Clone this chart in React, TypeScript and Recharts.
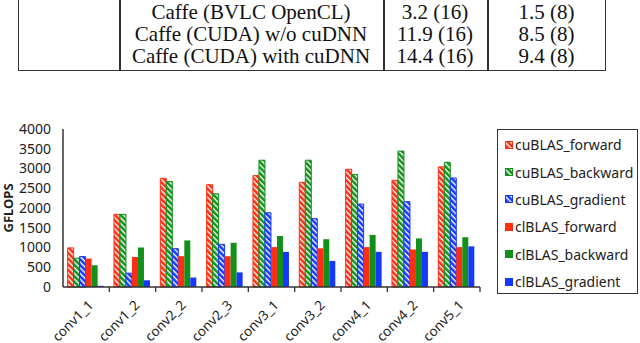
import React from "react";
import { BarChart, Bar, XAxis, YAxis } from "recharts";

const CATEGORIES = ["conv1_1", "conv1_2", "conv2_2", "conv2_3", "conv3_1", "conv3_2", "conv4_1", "conv4_2", "conv5_1"];
const CUBLAS_FORWARD = [990, 1840, 2750, 2590, 2820, 2650, 2980, 2700, 3040];
const CUBLAS_BACKWARD = [730, 1840, 2670, 2360, 3210, 3210, 2850, 3440, 3160];
const CUBLAS_GRADIENT = [770, 350, 970, 1080, 1880, 1730, 2100, 2160, 2760];
const CLBLAS_FORWARD = [720, 760, 780, 780, 1010, 980, 1010, 950, 1010];
const CLBLAS_BACKWARD = [550, 1000, 1180, 1120, 1290, 1210, 1320, 1230, 1260];
const CLBLAS_GRADIENT = [30, 170, 240, 370, 890, 660, 890, 890, 1030];
const Y_TICKS = [0, 500, 1000, 1500, 2000, 2500, 3000, 3500, 4000];

const TABLE_ROWS = [
  ["Caffe (BVLC OpenCL)", "3.2 (16)", "1.5 (8)"],
  ["Caffe (CUDA) w/o cuDNN", "11.9 (16)", "8.5 (8)"],
  ["Caffe (CUDA) with cuDNN", "14.4 (16)", "9.4 (8)"],
];

const RED = "#ff2d12";
const GREEN = "#12901a";
const BLUE = "#1438ff";
const FONT = "'Noto Sans', sans-serif";
const BAND = 417 / 9;

const data = CATEGORIES.map((name, i) => ({
  name,
  cuF: CUBLAS_FORWARD[i],
  cuB: CUBLAS_BACKWARD[i],
  cuG: CUBLAS_GRADIENT[i],
  clF: CLBLAS_FORWARD[i],
  clB: CLBLAS_BACKWARD[i],
  clG: CLBLAS_GRADIENT[i],
}));

const SERIES = [
  { key: "cuF", name: "cuBLAS_forward", color: RED, striped: true },
  { key: "cuB", name: "cuBLAS_backward", color: GREEN, striped: true },
  { key: "cuG", name: "cuBLAS_gradient", color: BLUE, striped: true },
  { key: "clF", name: "clBLAS_forward", color: RED, striped: false },
  { key: "clB", name: "clBLAS_backward", color: GREEN, striped: false },
  { key: "clG", name: "clBLAS_gradient", color: BLUE, striped: false },
];

const fillOf = (s: { key: string; color: string; striped: boolean }) =>
  s.striped ? `url(#hatch-${s.key})` : s.color;

// category label, rotated, plus a tick mark on the right edge of the band
function XTick(props: any) {
  const { x, y, payload } = props;
  const bx = x + BAND / 2;
  const tx = x + 8;
  const ty = y + 19;
  return (
    <g>
      <line x1={bx} y1={y} x2={bx} y2={y + 5} stroke="#333" strokeWidth={1.3} />
      <text
        x={tx}
        y={ty}
        textAnchor="end"
        transform={`rotate(-45 ${tx} ${ty})`}
        fontSize={13.5}
        fontFamily={FONT}
        fill="#222"
      >
        {payload.value}
      </text>
    </g>
  );
}

function YLabel() {
  return (
    <text
      x={13}
      y={208}
      transform="rotate(-90 13 208)"
      textAnchor="middle"
      fontFamily={FONT}
      fontWeight={700}
      fontSize={13}
      fill="#222"
    >
      GFLOPS
    </text>
  );
}

function LegendBox() {
  return (
    <div
      style={{
        position: "absolute",
        left: 497,
        top: 129,
        border: "1.3px solid #333",
        width: 141,
        height: 165,
        boxSizing: "border-box",
        padding: "1px 0 0 7px",
        background: "#fff",
      }}
    >
      {SERIES.map((s) => (
        <div key={s.key} style={{ display: "flex", alignItems: "center", height: 27.4, fontFamily: FONT, fontSize: 14, color: "#222", whiteSpace: "nowrap" }}>
          <svg width={8} height={8} style={{ marginRight: 2 }}>
            <rect x={0.5} y={0.5} width={7} height={7} fill={fillOf(s)} stroke={s.color} strokeWidth={1} />
          </svg>
          {s.name}
        </div>
      ))}
    </div>
  );
}

export default function App() {
  return (
    <div style={{ position: "absolute", left: 0, top: 0, width: 640, height: 343, background: "#fff", overflow: "hidden" }}>
      {/* table fragment at top */}
      <div style={{ position: "absolute", left: 18, top: 0, width: 588, height: 71, borderLeft: "1.5px solid #333", borderRight: "1.5px solid #333", borderBottom: "1.5px solid #333", boxSizing: "border-box" }} />
      {[119, 383, 487].map((x) => (
        <div key={x} style={{ position: "absolute", left: x, top: 0, width: 1.5, height: 71, background: "#333" }} />
      ))}
      {TABLE_ROWS.map((row, r) => (
        <React.Fragment key={r}>
          {row.map((cell, c) => {
            const cols = [[119, 383], [383, 487], [487, 606]];
            const [a, b] = cols[c];
            return (
              <div
                key={c}
                style={{
                  position: "absolute",
                  left: a,
                  width: b - a,
                  top: 1 + r * 22,
                  height: 22,
                  lineHeight: "22px",
                  textAlign: "center",
                  fontFamily: "'Liberation Serif', serif",
                  fontSize: 21,
                  color: "#111",
                  whiteSpace: "nowrap",
                }}
              >
                {cell}
              </div>
            );
          })}
        </React.Fragment>
      ))}

      <div style={{ position: "absolute", left: 0, top: 0 }}>
        <BarChart
          width={640}
          height={343}
          data={data}
          margin={{ top: 129, right: 160, bottom: 0, left: 0 }}
          barCategoryGap="10%"
          barGap={0}
        >
          <defs>
            {SERIES.filter((s) => s.striped).map((s) => (
              <pattern
                key={s.key}
                id={`hatch-${s.key}`}
                width={4}
                height={4}
                patternUnits="userSpaceOnUse"
                patternTransform="rotate(45)"
              >
                <rect width={4} height={4} fill={s.color} />
                <rect width={4} height={1.4} fill="#fff" />
              </pattern>
            ))}
          </defs>
          <XAxis
            dataKey="name"
            height={56}
            tickSize={0}
            tickMargin={0}
            tickLine={false}
            axisLine={{ stroke: "#333", strokeWidth: 1.5 }}
            tick={<XTick />}
            interval={0}
          />
          <XAxis xAxisId="top" orientation="top" dataKey="name" height={0} tick={false} tickLine={false} axisLine={{ stroke: "#333", strokeWidth: 1.5 }} />
          <YAxis
            domain={[0, 4000]}
            ticks={Y_TICKS}
            width={63}
            tickLine={false}
            axisLine={{ stroke: "#333", strokeWidth: 1.5 }}
            tick={{ fontSize: 14, fontFamily: FONT, fill: "#222" }}
            tickMargin={6}
            interval={0}
            label={<YLabel />}
          />
          <YAxis yAxisId="right" orientation="right" width={0} domain={[0, 4000]} tick={false} tickLine={false} axisLine={{ stroke: "#333", strokeWidth: 1.5 }} />
          {SERIES.map((s) => (
            <Bar
              key={s.key}
              dataKey={s.key}
              name={s.name}
              fill={fillOf(s)}
              stroke={s.striped ? s.color : "none"}
              strokeWidth={1}
              isAnimationActive={false}
            />
          ))}
        </BarChart>
      </div>
      <LegendBox />
    </div>
  );
}
